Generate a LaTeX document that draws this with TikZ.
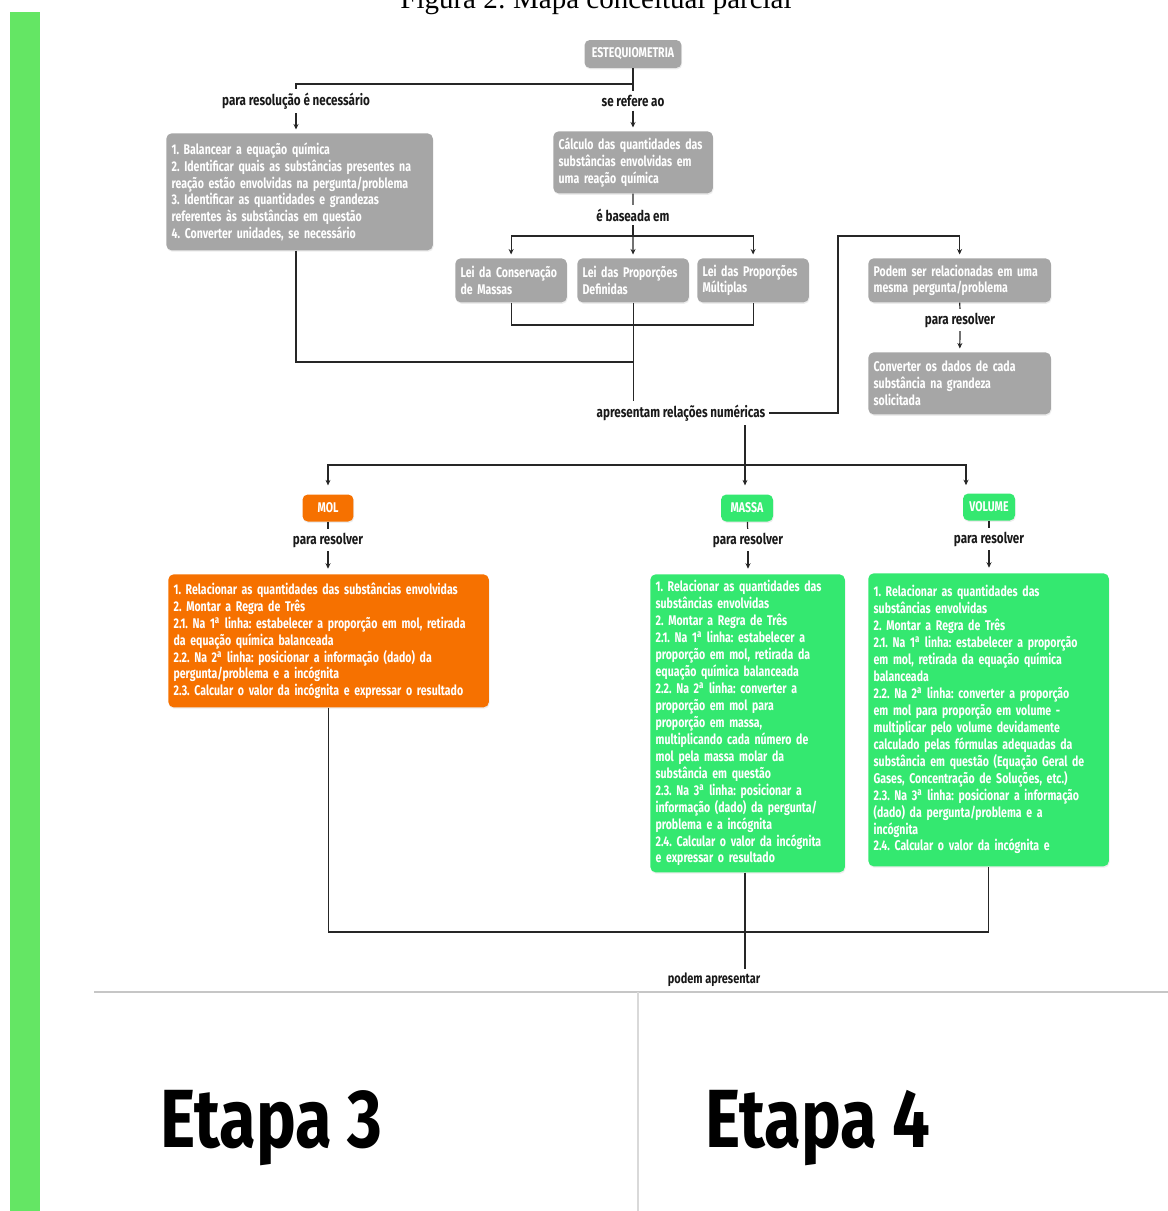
\documentclass[tikz,border=0pt]{standalone}
\usepackage{fontspec}
\usepackage{xcolor}
\usetikzlibrary{arrows.meta, calc, shadows, positioning}
\setmainfont{Liberation Serif}
\newfontfamily\mapfont{Fira Sans}[FakeStretch=0.75]
\newfontfamily\lblfont{Fira Sans}[FakeStretch=0.78]
\newfontfamily\etapafont{Fira Sans}[FakeStretch=0.81]
\definecolor{mapGray}{RGB}{166,166,166}
\definecolor{mapOrange}{RGB}{246,113,0}
\definecolor{mapGreen}{RGB}{52,232,112}
\definecolor{barGreen}{RGB}{100,230,100}
\newcommand{\mapArrow}{{Stealth[length=1.1mm, width=1mm]}}
\newcommand{\ord}{\textsuperscript{a}}
\frenchspacing

\begin{document}
\begin{tikzpicture}[x=0.02cm, y=-0.02cm,
	box/.style={rounded corners=3pt, text=white, font=\mapfont\bfseries\fontsize{8}{9.64}\selectfont, align=left, inner sep=3pt, anchor=north west, drop shadow={opacity=0.15, shadow xshift=0.4pt, shadow yshift=-0.8pt}},
	tag/.style={rounded corners=3pt, text=white, font=\mapfont\bfseries\fontsize{8}{9}\selectfont, align=center, inner sep=2pt, drop shadow={opacity=0.15, shadow xshift=0.4pt, shadow yshift=-0.8pt}},
	lbl/.style={font=\lblfont\bfseries\fontsize{8.5}{10}\selectfont, text=black!90, inner sep=2pt},
	con/.style={draw=black!85, line width=0.7pt},
	etapa/.style={font=\etapafont\bfseries\fontsize{47}{50}\selectfont, inner sep=0pt, anchor=base west}]
	\useasboundingbox (0,0) rectangle (1168,1211);

	% lateral bar and title
	\fill[barGreen]	(10,12) rectangle (40,1211);
	\node[font=\fontsize{16.5}{18}\selectfont, anchor=base] (titulo) at (596,8) {Figura 2: Mapa conceitual parcial};

	% upper part
	\node[tag, fill=mapGray, minimum width=1.94cm, minimum height=0.56cm] (estq) at (633,54) {ESTEQUIOMETRIA};
	\node[lbl] (lbNec) at (296,101) {para resolução é necessário};
	\node[lbl] (lbRef) at (633,101) {se refere ao};
	\node[box, fill=mapGray, text width=5.12cm, minimum height=2.34cm] (passos) at (166,133) {1. Balancear a equação química\\
		2. Identificar quais as substâncias presentes na\\
		reação estão envolvidas na pergunta/problema\\
		3. Identificar as quantidades e grandezas\\
		referentes às substâncias em questão\\
		4. Converter unidades, se necessário};
	\node[box, fill=mapGray, text width=2.98cm, minimum height=1.24cm] (calculo) at (553,131) {Cálculo das quantidades das\\substâncias envolvidas em\\uma reação química};
	\node[lbl] (lbBase) at (633,215) {é baseada em};
	\node[box, fill=mapGray, text width=2.02cm, minimum height=0.88cm] (leiA) at (455,258) {Lei da Conservação\\de Massas};
	\node[box, fill=mapGray, text width=2.02cm, minimum height=0.88cm] (leiB) at (577,258) {Lei das Proporções\\Definidas};
	\node[box, fill=mapGray, text width=2.02cm, minimum height=0.88cm] (leiC) at (697,258) {Lei das Proporções\\Múltiplas};
	\node[box, fill=mapGray, text width=3.44cm, minimum height=0.88cm] (podem) at (868,258) {Podem ser relacionadas em uma\\mesma pergunta/problema};
	\node[lbl] (lbRes1) at (960,320) {para resolver};
	\node[box, fill=mapGray, text width=3.44cm, minimum height=1.24cm] (converter) at (868,352) {Converter os dados de cada\\substância na grandeza\\solicitada};
	\node[lbl] (lbApr) at (681,413) {apresentam relações numéricas};

	\coordinate (split1) at (633,84);
	\coordinate (split2) at (633,236);
	\coordinate (join1) at (633,325);
	\coordinate (join2) at (633,362);
	\coordinate (turn1) at (838,236);
	\draw[con]	(estq) -- (split1) -| (lbNec);
	\draw[con]	(split1) -- (lbRef);
	\draw[con, -\mapArrow, shorten >=2pt]	(lbNec) -- (lbNec |- passos.north);
	\draw[con, -\mapArrow, shorten >=2pt]	(lbRef) -- (lbRef |- calculo.north);
	\draw[con]	(calculo) -- (lbBase);
	\draw[con]	(lbBase) -- (split2);
	\draw[con, -\mapArrow, shorten >=2pt]	(split2) -- (leiB);
	\draw[con, -\mapArrow, shorten >=2pt]	(split2) -| (leiA);
	\draw[con, -\mapArrow, shorten >=2pt]	(split2) -| (leiC);
	\draw[con]	(leiA) |- (join1) -| (leiC);
	\draw[con]	(leiB) -- (leiB |- lbApr.north);
	\draw[con]	(passos.south -| lbNec) |- (join2);
	\draw[con, -\mapArrow, shorten >=2pt]	(lbApr) -| (turn1) -| (podem);
	\draw[con]	(podem) -- (lbRes1);
	\draw[con, -\mapArrow, shorten >=2pt]	(lbRes1) -- (converter);

	% lower part
	\node[tag, fill=mapOrange, minimum width=1.02cm, minimum height=0.54cm] (mol) at (328,508) {MOL};
	\node[tag, fill=mapGreen, minimum width=1.04cm, minimum height=0.54cm] (massa) at (747,508) {MASSA};
	\node[tag, fill=mapGreen, minimum width=1.04cm, minimum height=0.54cm] (volume) at (989,507) {VOLUME};
	\node[lbl] (lbMol) at (328,540) {para resolver};
	\node[lbl] (lbMassa) at (748,540) {para resolver};
	\node[lbl] (lbVol) at (989,539) {para resolver};
	\node[box, fill=mapOrange, text width=6.2cm, minimum height=2.66cm] (laranja) at (168,574) {1. Relacionar as quantidades das substâncias envolvidas\\
		2. Montar a Regra de Três\\
		2.1. Na 1\ord{} linha: estabelecer a proporção em mol, retirada\\
		da equação química balanceada\\
		2.2. Na 2\ord{} linha: posicionar a informação (dado) da\\
		pergunta/problema e a incógnita\\
		2.3. Calcular o valor da incógnita e expressar o resultado};
	\node[box, fill=mapGreen, text width=3.68cm, minimum height=5.96cm] (massaBox) at (650,574) {1. Relacionar as quantidades das\\
		substâncias envolvidas\\
		2. Montar a Regra de Três\\
		2.1. Na 1\ord{} linha: estabelecer a\\
		proporção em mol, retirada da\\
		equação química balanceada\\
		2.2. Na 2\ord{} linha: converter a\\
		proporção em mol para\\
		proporção em massa,\\
		multiplicando cada número de\\
		mol pela massa molar da\\
		substância em questão\\
		2.3. Na 3\ord{} linha: posicionar a\\
		informação (dado) da pergunta/\\
		problema e a incógnita\\
		2.4. Calcular o valor da incógnita\\
		e expressar o resultado};
	\node[box, fill=mapGreen, text width=4.6cm, minimum height=5.86cm] (volBox) at (868,573) {1. Relacionar as quantidades das\\
		substâncias envolvidas\\
		2. Montar a Regra de Três\\
		2.1. Na 1\ord{} linha: estabelecer a proporção\\
		em mol, retirada da equação química\\
		balanceada\\
		2.2. Na 2\ord{} linha: converter a proporção\\
		em mol para proporção em volume -\\
		multiplicar pelo volume devidamente\\
		calculado pelas fórmulas adequadas da\\
		substância em questão (Equação Geral de\\
		Gases, Concentração de Soluções, etc.)\\
		2.3. Na 3\ord{} linha: posicionar a informação\\
		(dado) da pergunta/problema e a\\
		incógnita\\
		2.4. Calcular o valor da incógnita e};
	\node[lbl, font=\lblfont\bfseries\fontsize{8}{9}\selectfont] (lbPodem) at (714,980) {podem apresentar};

	\coordinate (split3) at (745,465);
	\coordinate (volIn) at (966,494);
	\coordinate (join3) at (745,932);
	\draw[con]	(lbApr.south -| split3) -- (split3);
	\draw[con, -\mapArrow, shorten >=5pt]	(split3) -| (mol);
	\draw[con, -\mapArrow, shorten >=5pt]	(split3) -- (split3 |- massa.north);
	\draw[con, -\mapArrow, shorten >=5pt]	(split3) -| (volIn);
	\draw[con]	(mol) -- (lbMol);
	\draw[con]	(massa) -- (lbMassa);
	\draw[con]	(volume) -- (lbVol);
	\draw[con, -\mapArrow, shorten >=3pt]	(lbMol) -- (lbMol |- laranja.north);
	\draw[con, -\mapArrow, shorten >=3pt]	(lbMassa) -- (lbMassa |- massaBox.north);
	\draw[con, -\mapArrow, shorten >=3pt]	(lbVol) -- (lbVol |- volBox.north);
	\draw[con]	(laranja) |- (join3) -| (volBox);
	\draw[con]	(massaBox.south -| split3) -- (lbPodem.north -| split3);

	% stages
	\draw[gray!45, line width=1.2pt]	(94,992) -- (1168,992);
	\draw[gray!30, line width=0.6pt]	(638,992) -- (638,1211);
	\node[etapa] (etapa3) at (160,1147) {Etapa 3};
	\node[etapa] (etapa4) at (705,1147) {Etapa 4};
\end{tikzpicture}
\end{document}
